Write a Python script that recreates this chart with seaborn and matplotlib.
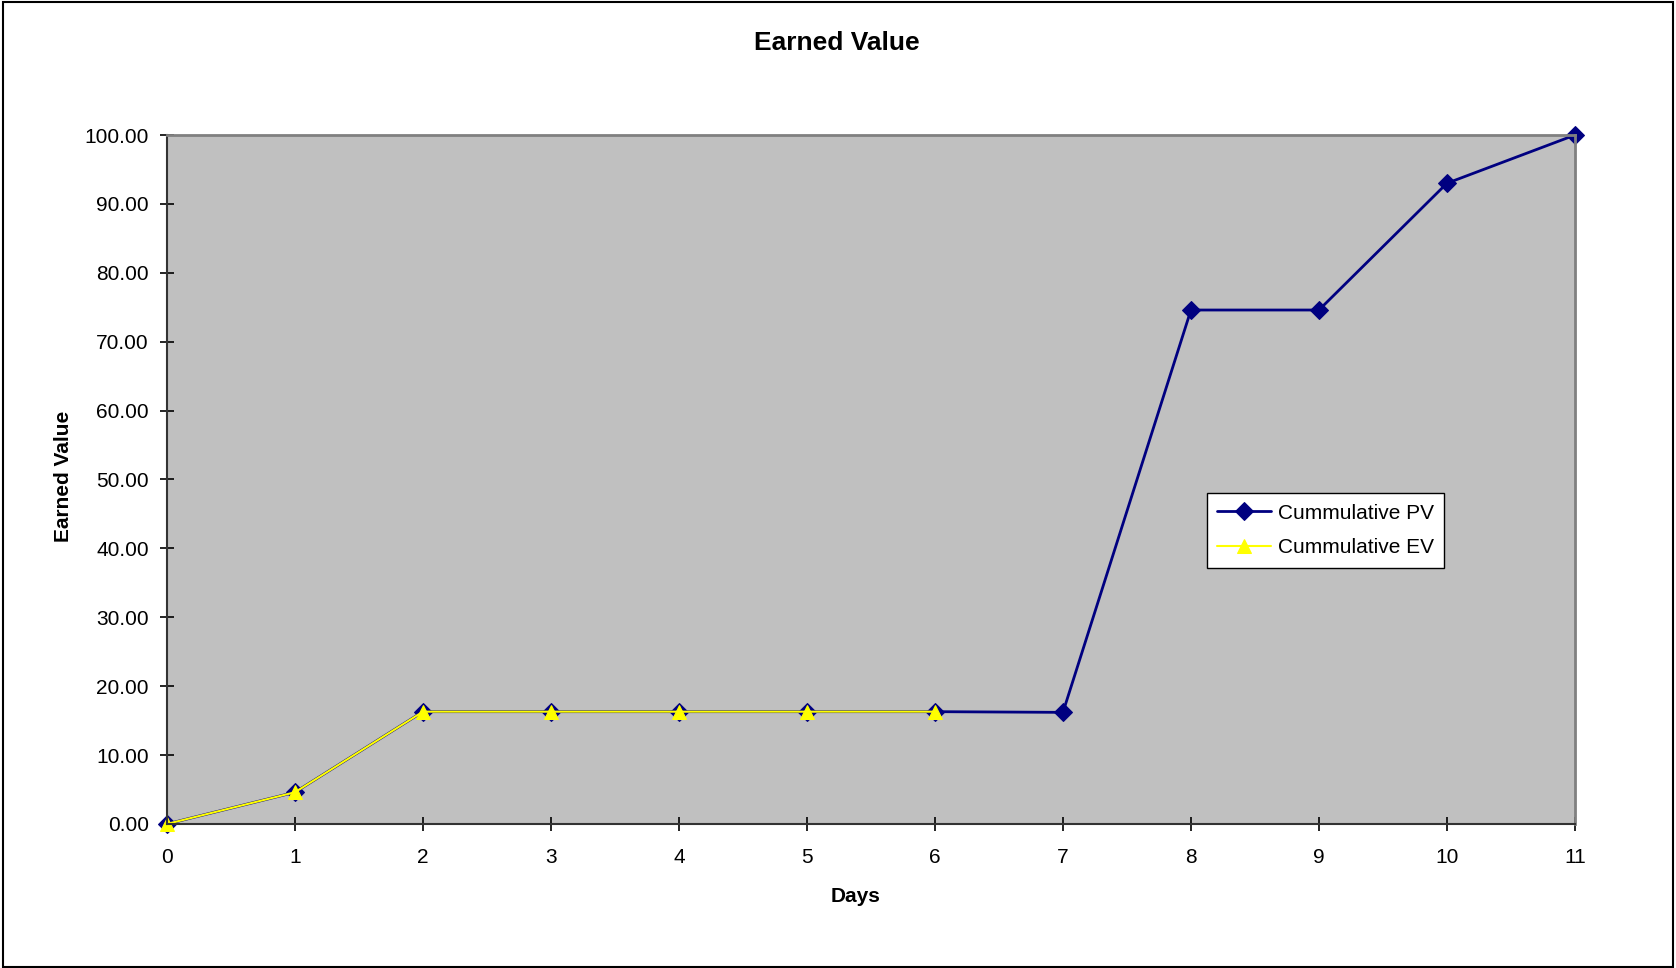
import matplotlib.pyplot as plt
import pandas as pd
import seaborn as sns
from matplotlib.patches import Rectangle

days = list(range(12))
cum_pv = [0.0, 4.6, 16.3, 16.3, 16.3, 16.3, 16.3, 16.2, 74.6, 74.6, 93.0, 100.0]
ev_days = list(range(7))
cum_ev = [0.0, 4.6, 16.3, 16.3, 16.3, 16.3, 16.3]

sns.set_style('ticks')
plt.rcParams['font.family'] = ['Liberation Sans', 'DejaVu Sans']
plt.rcParams['text.color'] = 'black'
plt.rcParams['axes.labelcolor'] = 'black'

pv = pd.DataFrame({'day': days, 'value': cum_pv})
ev = pd.DataFrame({'day': ev_days, 'value': cum_ev})

fig = plt.figure(figsize=(16.76, 9.68), dpi=100)
ax = fig.add_axes([0.0996, 0.1488, 0.8401, 0.7117])
ax.set_facecolor('#C0C0C0')

sns.lineplot(data=pv, x='day', y='value', ax=ax, color='#000080', linewidth=2,
             marker='D', markersize=9, markeredgecolor='#000080', label='Cummulative PV',
             clip_on=False)
sns.lineplot(data=ev, x='day', y='value', ax=ax, color='#FFFF00', linewidth=1.5,
             marker='^', markersize=10, markeredgecolor='#FFFF00', label='Cummulative EV',
             clip_on=False)

ax.set_xlim(0, 11)
ax.set_ylim(0, 100)
ax.set_xticks(days)
ax.set_yticks(range(0, 101, 10))
ax.set_yticklabels(['%.2f' % v for v in range(0, 101, 10)])
ax.tick_params(direction='inout', length=10, width=1.2, labelsize=15, colors='black')
ax.tick_params(axis='x', pad=12)
ax.tick_params(axis='y', pad=8)

for s in ['left', 'bottom']:
    ax.spines[s].set_color('#333333')
    ax.spines[s].set_linewidth(1.5)
for s in ['top', 'right']:
    ax.spines[s].set_visible(True)
    ax.spines[s].set_color('#808080')
    ax.spines[s].set_linewidth(2)

ax.set_xlabel('Days', fontsize=15, fontweight='bold')
ax.xaxis.set_label_coords(0.489, -0.0916)
ax.set_ylabel('Earned Value', fontsize=15, fontweight='bold')
ax.yaxis.set_label_coords(-0.067, 0.505)
fig.suptitle('Earned Value', x=0.4995, y=0.968, fontsize=19, fontweight='bold')

leg = ax.legend(loc='upper left', bbox_to_anchor=(0.7386, 0.48), fontsize=15,
                fancybox=False, framealpha=1, edgecolor='black', borderpad=0.5,
                borderaxespad=0, handlelength=2.6, labelspacing=0.75, handletextpad=0.3)
leg.get_frame().set_linewidth(1)

fig.patches.append(Rectangle((0.002, 0.001), 0.996, 0.997, transform=fig.transFigure,
                             fill=False, edgecolor='black', linewidth=1.5))

plt.savefig('out.png', dpi=100)
